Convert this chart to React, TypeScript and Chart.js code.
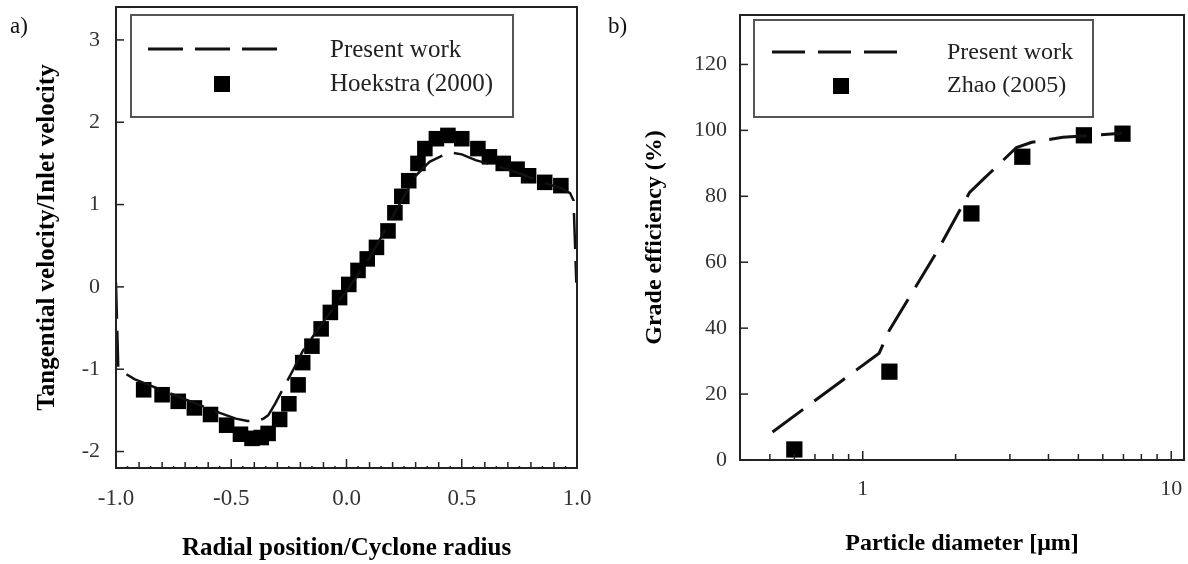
import React, { useEffect, useRef } from 'react';
import { Chart, registerables } from 'chart.js';

Chart.register(...registerables);

const FONT = '"Liberation Serif", "Times New Roman", serif';

// ---------- Panel a) data ----------
const radialHoekstra = [
  -0.88, -0.8, -0.73, -0.66, -0.59, -0.52, -0.46, -0.41, -0.37, -0.34, -0.29, -0.25, -0.21,
  -0.19, -0.15, -0.11, -0.07, -0.03, 0.01, 0.05, 0.09, 0.13, 0.18, 0.21, 0.24, 0.27, 0.31,
  0.34, 0.39, 0.44, 0.5, 0.57, 0.62, 0.68, 0.74, 0.79, 0.86, 0.93,
];
const velocityHoekstra = [
  -1.25, -1.31, -1.39, -1.47, -1.55, -1.68, -1.79, -1.84, -1.83, -1.78, -1.61, -1.42, -1.19,
  -0.92, -0.72, -0.51, -0.31, -0.13, 0.03, 0.2, 0.34, 0.48, 0.68, 0.9, 1.1, 1.29, 1.5,
  1.68, 1.8, 1.84, 1.8, 1.68, 1.58, 1.5, 1.43, 1.35, 1.27, 1.23,
];
const radialPresent = [
  -1.0, -0.99, -0.92, -0.85, -0.75, -0.65, -0.55, -0.48, -0.43, -0.39, -0.36, -0.34, -0.31,
  -0.23, -0.19, -0.1, 0.0, 0.1, 0.2, 0.3, 0.36, 0.42, 0.46, 0.5, 0.56, 0.65, 0.75, 0.85,
  0.93, 0.97, 0.985, 0.997,
];
const velocityPresent = [
  0.05, -1.0, -1.12, -1.2, -1.31, -1.42, -1.53, -1.6, -1.63, -1.63, -1.6, -1.56, -1.42,
  -1.0, -0.78, -0.42, -0.05, 0.35, 0.85, 1.35, 1.52, 1.6, 1.63, 1.61, 1.54, 1.47, 1.38, 1.27,
  1.2, 1.14, 1.05, 0.05,
];
const xTicksA = [-1, -0.5, 0, 0.5, 1];
const xMinorA = [-0.9, -0.8, -0.7, -0.6, -0.4, -0.3, -0.2, -0.1, 0.1, 0.2, 0.3, 0.4, 0.6, 0.7, 0.8, 0.9];
const xTinyA = [-0.95, -0.85, -0.75, -0.65, -0.55, -0.45, -0.35, -0.25, -0.15, -0.05, 0.05, 0.15, 0.25, 0.35, 0.45, 0.55, 0.65, 0.75, 0.85, 0.95];
const yTicksA = [-2, -1, 0, 1, 2, 3];

// ---------- Panel b) data ----------
const diameterZhao = [0.6, 1.22, 2.25, 3.29, 5.21, 6.95];
const efficiencyZhao = [3.2, 26.8, 74.8, 92.0, 98.5, 99.0];
const diameterPresent = [0.51, 1.13, 1.22, 1.75, 2.22, 2.48, 3.15, 3.53, 4.45, 6.92];
const efficiencyPresent = [8.5, 32.4, 39.4, 63.6, 81.2, 85.5, 94.8, 96.4, 97.9, 99.1];
const xTicksB = [1, 10];
const xMinorB = [0.5, 0.6, 0.7, 0.8, 0.9, 2, 3, 4, 5, 6, 7, 8, 9];
const yTicksB = [0, 20, 40, 60, 80, 100, 120];

const pts = (xs: number[], ys: number[]) => xs.map((x, i) => ({ x, y: ys[i] }));

const fitWidth = (w: number) => (s: any) => {
  s.width = w;
  s.paddingTop = 0;
  s.paddingBottom = 0;
  s.paddingLeft = 0;
  s.paddingRight = 0;
};
const fitHeight = (h: number) => (s: any) => {
  s.height = h;
  s.paddingTop = 0;
  s.paddingBottom = 0;
  s.paddingLeft = 0;
  s.paddingRight = 0;
};

const framePlugin = {
  id: 'frame',
  afterDraw(chart: any, _args: any, o: any) {
    const { ctx, chartArea: a } = chart;
    const xs = chart.scales.x;
    const ys = chart.scales.y;
    ctx.save();
    ctx.strokeStyle = '#222';
    ctx.lineWidth = 2;
    ctx.strokeRect(a.left, a.top, a.right - a.left, a.bottom - a.top);
    ctx.lineWidth = 1.5;
    const vtick = (v: number, len: number) => {
      const p = xs.getPixelForValue(v);
      ctx.beginPath();
      ctx.moveTo(p, a.bottom);
      ctx.lineTo(p, a.bottom - len);
      ctx.stroke();
    };
    const htick = (v: number, len: number) => {
      const p = ys.getPixelForValue(v);
      ctx.beginPath();
      ctx.moveTo(a.left, p);
      ctx.lineTo(a.left + len, p);
      ctx.stroke();
    };
    (o.xMajor || []).forEach((v: number) => vtick(v, 9));
    (o.xMinor || []).forEach((v: number) => vtick(v, 6));
    (o.xTiny || []).forEach((v: number) => vtick(v, 2));
    (o.yMajor || []).forEach((v: number) => htick(v, 8));
    ctx.restore();
  },
};

const legendPlugin = {
  id: 'boxLegend',
  afterDraw(chart: any, _args: any, o: any) {
    if (!o || !o.box) return;
    const { ctx } = chart;
    const ds = chart.data.datasets;
    ctx.save();
    ctx.fillStyle = '#fff';
    ctx.fillRect(o.box.x, o.box.y, o.box.w, o.box.h);
    ctx.strokeStyle = '#555';
    ctx.lineWidth = 2;
    ctx.strokeRect(o.box.x, o.box.y, o.box.w, o.box.h);
    ctx.strokeStyle = '#111';
    ctx.lineWidth = 3;
    ctx.setLineDash(o.dash);
    ctx.beginPath();
    ctx.moveTo(o.lineX1, o.row1);
    ctx.lineTo(o.lineX2, o.row1);
    ctx.stroke();
    ctx.setLineDash([]);
    ctx.fillStyle = '#000';
    ctx.fillRect(o.squareX - 8, o.row2 - 8, 16, 16);
    ctx.font = `${o.fontSize || 24}px ${FONT}`;
    ctx.fillStyle = '#222';
    ctx.textBaseline = 'middle';
    ctx.textAlign = 'left';
    ctx.fillText(ds[0].label, o.textX, o.row1 + 1);
    ctx.fillText(ds[1].label, o.textX, o.row2);
    ctx.restore();
  },
};

function configA(): any {
  return {
    type: 'scatter',
    data: {
      datasets: [
        {
          label: 'Present work',
          data: pts(radialPresent, velocityPresent),
          showLine: true,
          borderColor: '#111',
          borderWidth: 2.5,
          borderDash: [36, 12],
          pointRadius: 0,
          tension: 0,
          fill: false,
        },
        {
          label: 'Hoekstra (2000)',
          data: pts(radialHoekstra, velocityHoekstra),
          showLine: false,
          pointStyle: 'rect',
          pointRadius: 11,
          backgroundColor: '#000',
          borderWidth: 0,
        },
      ],
    },
    options: {
      responsive: false,
      animation: false,
      layout: { autoPadding: false, padding: { top: 7, right: 17, left: 0, bottom: 0 } },
      scales: {
        x: {
          type: 'linear',
          min: -1,
          max: 1,
          afterBuildTicks: (s: any) => { s.ticks = xTicksA.map((v) => ({ value: v })); },
          afterFit: fitHeight(96),
          grid: { display: false, drawTicks: false },
          border: { display: false },
          ticks: {
            autoSkip: false,
            maxRotation: 0,
            padding: 17,
            color: '#333',
            font: { family: FONT, size: 23 },
            callback: (v: any) => Number(v).toFixed(1),
          },
          title: {
            display: true,
            text: 'Radial position/Cyclone radius',
            color: '#000',
            font: { family: FONT, size: 25, weight: 'bold' },
            padding: { top: 0, bottom: 0 },
          },
        },
        y: {
          type: 'linear',
          min: -2.2,
          max: 3.4,
          afterBuildTicks: (s: any) => { s.ticks = yTicksA.map((v) => ({ value: v })); },
          afterFit: fitWidth(116),
          grid: { display: false, drawTicks: false },
          border: { display: false },
          ticks: {
            autoSkip: false,
            padding: 16,
            color: '#333',
            font: { family: FONT, size: 22 },
            callback: (v: any) => String(v),
          },
          title: {
            display: true,
            text: 'Tangential velocity/Inlet velocity',
            color: '#000',
            font: { family: FONT, size: 25, weight: 'bold' },
            padding: { top: 33, bottom: 0 },
          },
        },
      },
      plugins: {
        legend: { display: false },
        tooltip: { enabled: false },
        frame: { xMajor: xTicksA, xMinor: xMinorA, xTiny: xTinyA, yMajor: yTicksA },
        boxLegend: {
          box: { x: 131, y: 15, w: 382, h: 102 },
          dash: [35, 12],
          lineX1: 148,
          lineX2: 279,
          squareX: 222,
          textX: 330,
          row1: 49,
          row2: 84,
          fontSize: 25,
        },
      },
    },
    plugins: [framePlugin, legendPlugin],
  };
}

function configB(): any {
  return {
    type: 'scatter',
    data: {
      datasets: [
        {
          label: 'Present work',
          data: pts(diameterPresent, efficiencyPresent),
          showLine: true,
          borderColor: '#111',
          borderWidth: 3,
          borderDash: [38, 14],
          pointRadius: 0,
          tension: 0,
          fill: false,
        },
        {
          label: 'Zhao (2005)',
          data: pts(diameterZhao, efficiencyZhao),
          showLine: false,
          pointStyle: 'rect',
          pointRadius: 11.5,
          backgroundColor: '#000',
          borderWidth: 0,
        },
      ],
    },
    options: {
      responsive: false,
      animation: false,
      layout: { autoPadding: false, padding: { top: 15, right: 4, left: 0, bottom: 0 } },
      scales: {
        x: {
          type: 'logarithmic',
          min: 0.4,
          max: 11,
          afterBuildTicks: (s: any) => { s.ticks = xTicksB.map((v) => ({ value: v })); },
          afterFit: fitHeight(104),
          grid: { display: false, drawTicks: false },
          border: { display: false },
          ticks: {
            autoSkip: false,
            maxRotation: 0,
            padding: 16,
            color: '#333',
            font: { family: FONT, size: 22 },
            callback: (v: any) => String(v),
          },
          title: {
            display: true,
            text: 'Particle diameter [μm]',
            color: '#000',
            font: { family: FONT, size: 24, weight: 'bold' },
            padding: { top: 0, bottom: 6 },
          },
        },
        y: {
          type: 'linear',
          min: 0,
          max: 135,
          afterBuildTicks: (s: any) => { s.ticks = yTicksB.map((v) => ({ value: v })); },
          afterFit: fitWidth(146),
          grid: { display: false, drawTicks: false },
          border: { display: false },
          ticks: {
            autoSkip: false,
            padding: 13,
            color: '#333',
            font: { family: FONT, size: 22 },
            callback: (v: any) => String(v),
          },
          title: {
            display: true,
            text: 'Grade efficiency (%)',
            color: '#000',
            font: { family: FONT, size: 24, weight: 'bold' },
            padding: { top: 46, bottom: 0 },
          },
        },
      },
      plugins: {
        legend: { display: false },
        tooltip: { enabled: false },
        frame: { xMajor: xTicksB, xMinor: xMinorB, yMajor: yTicksB },
        boxLegend: {
          box: { x: 160, y: 20, w: 339, h: 97 },
          dash: [33, 13],
          lineX1: 178,
          lineX2: 303,
          squareX: 247,
          textX: 353,
          row1: 52,
          row2: 86,
          fontSize: 24,
        },
      },
    },
    plugins: [framePlugin, legendPlugin],
  };
}

function ChartCanvas({ make, left }: { make: () => any; left: number }) {
  const ref = useRef<HTMLCanvasElement>(null);
  useEffect(() => {
    const chart = new Chart(ref.current as HTMLCanvasElement, make());
    return () => chart.destroy();
  }, []);
  return (
    <canvas
      ref={ref}
      width={594}
      height={564}
      style={{ position: 'absolute', left, top: 0, width: 594, height: 564, display: 'block' }}
    />
  );
}

export default function App() {
  const label: React.CSSProperties = {
    position: 'absolute',
    top: 13,
    fontFamily: FONT,
    fontSize: 23,
    lineHeight: '26px',
    color: '#111',
  };
  return (
    <div style={{ position: 'absolute', left: 0, top: 0, width: 1188, height: 564, background: '#fff', overflow: 'hidden' }}>
      <ChartCanvas make={configA} left={0} />
      <ChartCanvas make={configB} left={594} />
      <div style={{ ...label, left: 10 }}>a)</div>
      <div style={{ ...label, left: 608 }}>b)</div>
    </div>
  );
}
